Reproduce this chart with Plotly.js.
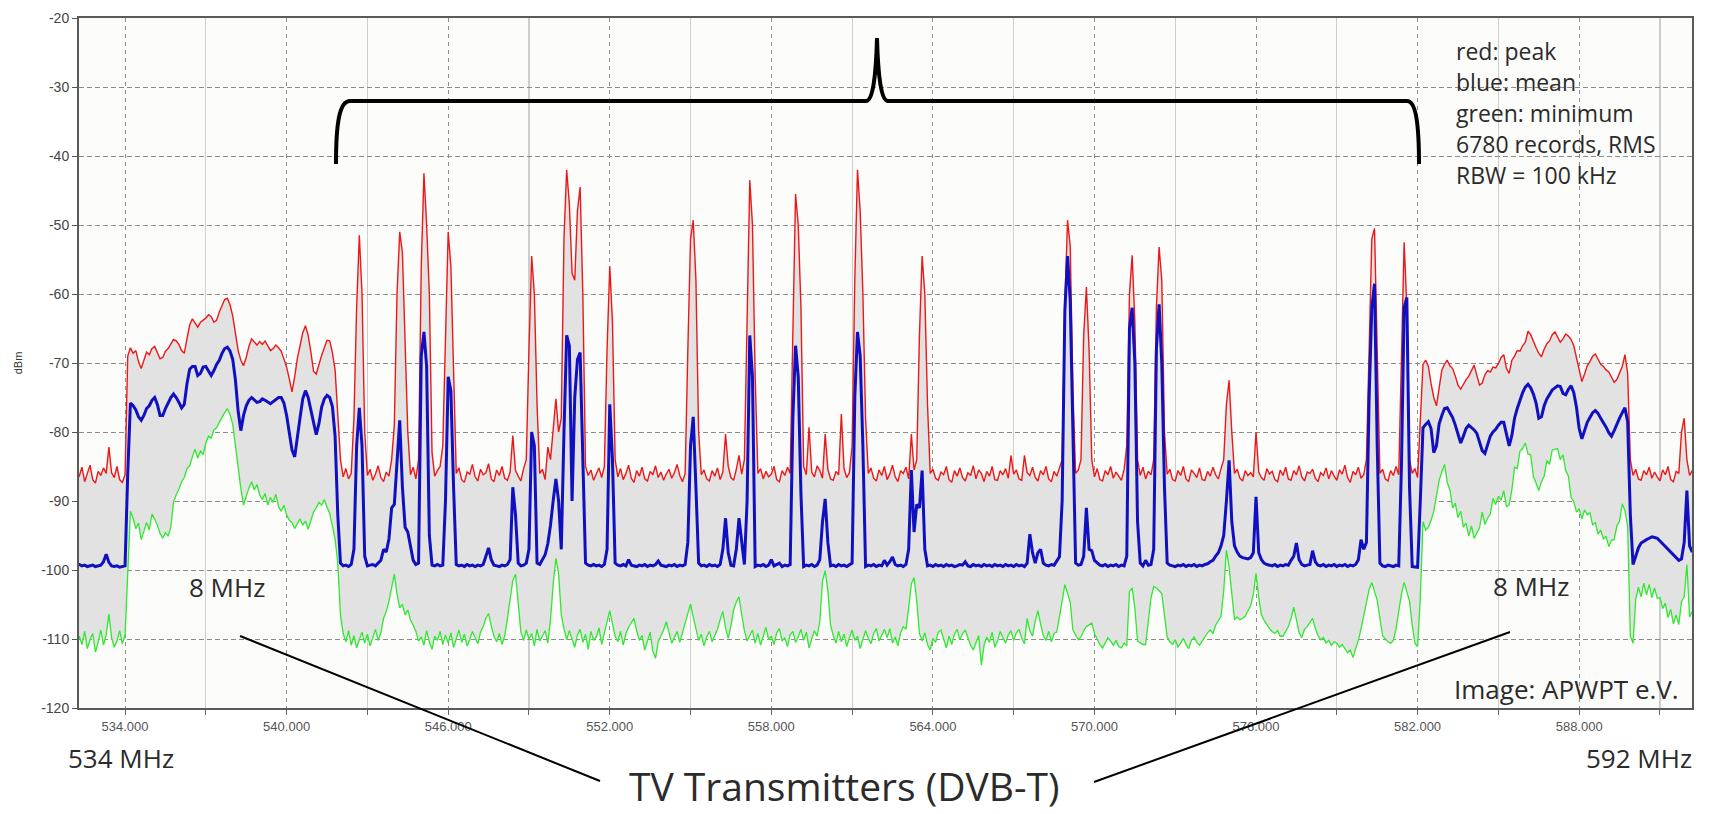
<!DOCTYPE html>
<html>
<head>
<meta charset="utf-8">
<script src="https://cdn.plot.ly/plotly-3.0.1.min.js"></script>
<style>html,body{margin:0;padding:0;background:#ffffff;}#chart{width:1712px;height:814px;}</style>
</head>
<body>
<div id="chart"></div>
<script>
// ---------- DATA (dBm), one row per MHz: row k covers 532+k .0 ... .9 MHz ----------
const firstRowMHz = 532;
const stepMHz = 0.1;

const peakDbm = [
[-86.0,-85.6,-86.8,-86.4,-85.1,-87.2,-86.0,-84.8,-86.9,-87.4],
[-85.7,-86.3,-85.2,-86.0,-82.2,-85.9,-86.6,-85.0,-86.9,-87.3],
[-86.2,-69.0,-67.8,-68.6,-68.2,-69.8,-70.8,-69.5,-68.4,-68.8],
[-67.9,-67.6,-68.5,-69.4,-69.2,-68.3,-67.9,-67.2,-66.6,-66.8],
[-67.3,-68.2,-68.6,-66.5,-64.5,-63.6,-64.2,-64.8,-64.1,-63.8],
[-63.5,-63.0,-63.3,-64.1,-63.8,-62.6,-61.7,-60.8,-60.6,-61.6],
[-63.2,-66.0,-68.2,-69.6,-70.4,-69.2,-67.6,-66.5,-67.0,-67.4],
[-66.9,-67.3,-66.8,-67.6,-68.2,-67.9,-67.4,-67.8,-68.3,-69.4],
[-70.6,-72.3,-74.2,-72.0,-69.3,-67.5,-65.6,-64.6,-66.0,-68.4],
[-71.2,-71.6,-70.2,-68.9,-67.8,-66.7,-66.8,-68.5,-71.0,-77.0],
[-84.0,-86.5,-85.3,-86.8,-86.0,-78.0,-62.0,-51.5,-60.0,-80.0],
[-86.3,-85.4,-87.0,-86.1,-84.9,-86.6,-87.2,-85.8,-86.4,-84.0],
[-79.0,-60.0,-51.0,-54.0,-66.0,-80.0,-86.2,-85.1,-86.8,-84.0],
[-56.0,-42.5,-50.0,-60.0,-83.0,-86.4,-85.6,-85.0,-82.0,-66.0],
[-51.0,-56.0,-72.0,-86.0,-85.2,-86.9,-87.3,-85.8,-86.1,-84.7],
[-86.5,-87.1,-85.4,-86.2,-85.9,-84.6,-86.8,-87.2,-85.5,-86.3],
[-85.0,-86.7,-87.0,-85.8,-80.5,-85.6,-86.4,-87.1,-85.3,-84.0],
[-68.0,-54.5,-60.0,-76.0,-86.0,-85.4,-86.9,-82.2,-84.0,-79.0],
[-75.2,-80.0,-78.0,-52.0,-42.0,-47.0,-57.0,-58.0,-48.0,-44.5],
[-60.0,-85.0,-86.3,-85.5,-87.0,-86.1,-85.2,-86.6,-85.0,-68.0],
[-56.0,-64.0,-84.0,-86.5,-85.3,-86.9,-86.0,-84.8,-86.7,-87.3],
[-85.6,-86.4,-85.1,-86.8,-87.1,-85.7,-86.2,-84.9,-86.6,-85.8],
[-87.0,-86.1,-85.4,-86.7,-85.9,-84.7,-86.3,-87.2,-86.0,-68.0],
[-52.0,-49.3,-58.0,-80.0,-86.2,-85.5,-86.8,-87.1,-85.6,-86.4],
[-85.2,-86.9,-85.8,-80.3,-85.0,-86.6,-87.0,-85.4,-83.4,-86.1],
[-84.0,-64.0,-43.5,-50.0,-72.0,-86.0,-85.3,-86.8,-85.7,-86.5],
[-86.1,-85.0,-86.9,-87.2,-85.6,-86.3,-85.1,-86.0,-64.0,-45.5],
[-50.0,-62.0,-85.0,-86.2,-79.3,-85.8,-86.5,-84.9,-85.6,-86.7],
[-80.3,-85.4,-86.8,-87.0,-85.7,-86.2,-77.4,-85.3,-86.6,-85.9],
[-82.0,-58.0,-42.0,-48.0,-60.0,-78.0,-86.0,-85.2,-86.7,-87.1],
[-85.5,-86.3,-85.0,-86.9,-86.1,-84.8,-86.5,-87.2,-85.6,-86.0],
[-85.1,-86.8,-80.3,-85.5,-84.0,-66.0,-54.5,-60.0,-76.0,-86.0],
[-85.4,-86.7,-87.0,-85.8,-86.2,-85.0,-86.9,-87.3,-85.6,-86.4],
[-85.2,-86.6,-87.1,-85.9,-86.3,-84.9,-86.8,-85.5,-86.0,-87.2],
[-85.7,-86.4,-85.0,-86.9,-87.0,-85.6,-86.2,-85.3,-86.7,-83.4],
[-86.1,-85.5,-86.8,-87.0,-83.4,-85.9,-86.3,-85.1,-86.6,-87.1],
[-85.6,-86.2,-85.0,-86.8,-87.2,-85.7,-86.4,-85.3,-84.0,-62.0],
[-49.3,-53.0,-74.0,-86.0,-85.5,-84.0,-66.0,-59.0,-68.0,-84.0],
[-86.5,-85.3,-86.9,-87.1,-85.6,-86.2,-85.0,-86.7,-85.8,-86.4],
[-87.0,-85.5,-82.0,-60.0,-54.4,-64.0,-84.0,-86.3,-85.1,-86.8],
[-85.7,-86.2,-84.0,-62.0,-53.2,-58.0,-80.0,-86.1,-85.4,-86.9],
[-87.1,-85.6,-86.3,-85.0,-86.8,-87.2,-85.5,-86.0,-86.6,-85.2],
[-86.9,-87.0,-85.7,-86.4,-85.1,-86.2,-86.8,-85.3,-84.0,-76.0],
[-72.5,-80.0,-86.0,-85.4,-86.7,-87.1,-85.6,-86.3,-85.9,-86.5],
[-80.0,-85.8,-86.6,-87.0,-85.3,-86.1,-85.7,-86.9,-87.2,-85.5],
[-86.3,-85.1,-86.8,-87.0,-85.6,-86.2,-84.9,-86.5,-87.1,-85.8],
[-86.0,-85.4,-86.7,-87.2,-85.9,-86.3,-85.2,-86.8,-85.6,-86.4],
[-87.0,-85.5,-86.1,-84.8,-86.6,-87.3,-85.7,-86.2,-85.1,-86.7],
[-86.2,-84.0,-66.0,-52.0,-50.5,-68.0,-86.0,-85.4,-86.8,-87.1],
[-85.6,-86.3,-85.0,-86.2,-70.0,-52.5,-62.0,-84.0,-86.0,-85.3],
[-86.6,-78.0,-70.2,-69.6,-70.5,-73.0,-75.0,-76.2,-73.5,-71.0],
[-70.2,-69.6,-70.4,-70.8,-71.9,-73.2,-73.8,-73.0,-72.4,-71.9],
[-71.0,-70.3,-71.8,-73.2,-72.9,-71.7,-71.1,-71.3,-70.6,-70.7],
[-70.1,-69.2,-68.8,-70.8,-71.5,-69.6,-69.0,-68.2,-68.3,-67.5],
[-67.0,-65.4,-65.9,-67.0,-67.8,-68.6,-69.1,-68.0,-67.2,-66.8],
[-65.9,-65.5,-66.2,-67.0,-66.5,-65.8,-66.1,-66.6,-67.5,-69.2],
[-71.0,-72.7,-71.6,-70.4,-69.8,-69.0,-68.7,-69.5,-70.2,-70.5],
[-71.0,-71.3,-72.0,-72.8,-72.4,-71.4,-70.5,-68.8,-71.5,-84.0],
[-86.3,-85.4,-86.8,-87.0,-85.6,-86.2,-85.1,-86.7,-85.8,-86.5],
[-87.1,-85.5,-86.2,-85.0,-86.9,-87.2,-85.7,-86.0,-80.0,-78.0],
[-84.0,-86.3,-85.6]
];

const meanDbm = [
[-99.3,-99.4,-99.2,-99.2,-99.4,-99.3,-99.5,-99.4,-99.3,-99.5],
[-99.4,-99.3,-98.8,-97.7,-98.9,-99.4,-99.5,-99.4,-99.6,-99.5],
[-99.4,-86.0,-75.8,-76.2,-76.8,-77.8,-78.3,-77.6,-76.6,-76.2],
[-75.4,-75.0,-76.0,-77.6,-77.6,-76.6,-75.8,-75.0,-74.5,-75.0],
[-75.7,-76.5,-76.0,-73.0,-70.9,-70.5,-70.5,-71.8,-71.5,-70.6],
[-70.5,-71.2,-71.8,-71.1,-70.2,-69.6,-68.6,-67.9,-67.7,-68.3],
[-69.5,-72.5,-77.0,-79.8,-77.6,-76.2,-75.4,-75.0,-75.4,-75.7],
[-75.6,-75.2,-75.4,-75.7,-75.9,-75.6,-75.3,-75.0,-75.0,-75.8],
[-77.6,-80.0,-82.6,-83.6,-80.5,-77.9,-75.2,-74.0,-75.0,-76.6],
[-78.6,-80.4,-78.8,-76.4,-75.2,-74.7,-75.0,-76.3,-80.6,-92.0],
[-99.0,-99.4,-99.3,-99.5,-99.2,-97.0,-82.0,-76.5,-82.0,-98.0],
[-99.4,-99.3,-99.2,-99.4,-99.0,-98.6,-97.0,-97.4,-95.5,-91.0],
[-90.5,-85.0,-78.3,-88.0,-93.8,-94.5,-96.5,-98.6,-99.2,-99.0],
[-69.0,-65.5,-70.5,-95.0,-99.3,-99.4,-99.2,-99.4,-99.3,-90.0],
[-72.0,-74.0,-88.0,-99.2,-99.4,-99.3,-99.5,-99.2,-99.4,-99.3],
[-99.5,-99.3,-99.4,-99.2,-98.0,-96.8,-98.5,-99.3,-99.4,-99.5],
[-99.3,-99.4,-99.2,-98.5,-88.0,-92.0,-99.0,-99.4,-99.3,-99.0],
[-97.0,-80.0,-82.0,-99.0,-99.2,-98.4,-97.8,-96.2,-93.5,-89.9],
[-86.8,-90.0,-97.0,-80.0,-66.0,-67.5,-90.0,-75.0,-69.5,-68.5],
[-85.0,-99.0,-99.3,-99.4,-99.2,-99.4,-99.3,-99.5,-99.2,-97.0],
[-76.0,-84.0,-99.0,-99.3,-99.4,-99.2,-99.4,-98.5,-99.3,-99.4],
[-99.5,-99.3,-99.4,-99.2,-99.5,-99.3,-99.4,-99.2,-98.7,-99.3],
[-99.4,-99.5,-99.3,-99.4,-99.2,-99.5,-99.3,-99.4,-99.2,-96.0],
[-82.0,-77.8,-88.0,-99.0,-99.4,-99.3,-99.5,-99.2,-99.4,-99.3],
[-99.5,-99.2,-97.0,-92.5,-97.5,-99.3,-99.4,-97.0,-92.5,-96.0],
[-99.2,-90.0,-66.0,-72.0,-99.5,-99.3,-99.4,-99.2,-99.5,-99.3],
[-98.5,-99.4,-99.2,-99.0,-99.5,-99.3,-99.4,-99.2,-78.0,-67.5],
[-72.0,-89.0,-99.5,-99.3,-99.4,-99.2,-99.5,-99.3,-98.5,-93.0],
[-89.7,-96.0,-99.4,-99.3,-99.5,-99.2,-99.4,-99.3,-99.5,-99.2],
[-99.0,-75.0,-65.5,-69.0,-82.0,-99.5,-99.3,-99.4,-99.2,-99.5],
[-99.3,-99.4,-98.6,-99.3,-98.8,-98.1,-99.2,-99.4,-99.3,-99.5],
[-99.2,-97.0,-85.5,-94.5,-90.5,-91.0,-85.6,-97.0,-99.4,-99.3],
[-99.5,-99.2,-99.4,-99.3,-99.5,-99.2,-99.4,-99.3,-99.5,-99.4],
[-99.2,-99.3,-98.8,-99.4,-99.5,-99.2,-99.4,-99.3,-99.5,-99.2],
[-99.4,-99.3,-99.5,-99.2,-99.4,-99.3,-99.5,-99.2,-99.4,-99.3],
[-99.5,-99.2,-99.4,-99.3,-99.5,-99.0,-94.8,-97.5,-99.0,-97.5],
[-97.0,-99.0,-99.3,-99.4,-99.2,-99.3,-98.6,-98.1,-90.0,-62.5],
[-54.5,-61.0,-80.0,-99.0,-99.3,-99.2,-98.0,-91.0,-97.0,-97.2],
[-98.6,-99.0,-99.3,-99.4,-99.2,-99.5,-99.3,-99.4,-99.2,-99.5],
[-99.3,-99.4,-98.0,-65.0,-62.0,-70.0,-93.0,-99.0,-99.4,-98.6],
[-99.3,-99.2,-97.0,-68.0,-61.5,-70.0,-88.0,-99.0,-99.3,-99.4],
[-99.5,-99.3,-99.4,-99.2,-99.5,-99.3,-99.4,-99.2,-99.5,-99.3],
[-99.4,-99.2,-99.1,-98.8,-98.6,-98.0,-97.5,-96.5,-95.0,-90.0],
[-84.1,-93.0,-96.5,-97.4,-98.0,-98.2,-98.3,-98.4,-98.2,-97.5],
[-89.4,-97.5,-98.5,-99.0,-99.2,-99.3,-99.4,-99.2,-99.5,-99.3],
[-99.4,-99.2,-99.3,-98.6,-98.0,-96.1,-98.5,-99.2,-99.4,-99.3],
[-99.2,-97.2,-98.8,-99.3,-99.4,-99.2,-99.5,-99.3,-99.4,-99.2],
[-99.5,-99.3,-99.4,-99.2,-99.5,-99.3,-99.4,-99.2,-98.5,-95.6],
[-97.0,-96.0,-75.0,-62.0,-58.5,-82.0,-99.0,-99.4,-99.5,-99.3],
[-99.4,-99.5,-99.3,-99.4,-85.0,-62.0,-60.5,-88.0,-99.5,-99.6],
[-99.6,-90.0,-79.4,-78.9,-78.5,-79.5,-83.0,-82.0,-78.8,-77.6],
[-76.6,-76.5,-77.2,-77.9,-79.0,-80.5,-81.6,-80.6,-79.5,-79.0],
[-79.3,-79.7,-80.2,-81.5,-82.7,-83.1,-81.8,-80.6,-80.0,-79.6],
[-79.0,-78.6,-78.6,-80.2,-82.0,-80.5,-78.0,-76.6,-75.3,-74.3],
[-73.5,-73.1,-73.6,-74.5,-75.8,-78.0,-77.8,-76.2,-75.2,-74.5],
[-73.9,-73.6,-73.3,-73.4,-74.4,-74.6,-73.8,-73.3,-74.3,-76.4],
[-79.5,-81.0,-79.8,-78.6,-77.9,-77.2,-76.9,-77.3,-78.0,-78.6],
[-79.3,-80.1,-80.6,-79.8,-78.8,-78.0,-77.2,-76.5,-78.5,-92.0],
[-99.2,-98.0,-96.8,-96.1,-95.8,-95.6,-95.4,-95.2,-95.3,-95.4],
[-95.8,-96.2,-96.7,-97.1,-97.5,-97.9,-98.3,-98.6,-98.4,-96.0],
[-88.5,-96.5,-97.4]
];

const minDbm = [
[-110.2,-109.1,-111.0,-109.6,-110.8,-108.9,-111.4,-110.1,-109.2,-111.9],
[-110.5,-108.7,-110.9,-109.4,-106.4,-109.8,-111.2,-110.3,-108.8,-110.7],
[-109.5,-100.0,-91.5,-92.5,-94.0,-93.2,-95.6,-94.4,-93.1,-94.2],
[-91.9,-92.6,-93.5,-94.7,-95.4,-94.6,-95.1,-93.8,-90.2,-89.1],
[-88.3,-87.2,-86.6,-85.3,-84.9,-83.6,-82.5,-83.8,-82.7,-83.3],
[-81.6,-80.6,-80.9,-79.7,-79.4,-78.6,-77.8,-77.2,-76.6,-77.5],
[-78.9,-82.2,-85.0,-88.2,-90.6,-89.3,-88.1,-87.2,-88.4,-87.6],
[-89.1,-89.8,-88.9,-90.6,-89.5,-90.2,-89.0,-90.8,-91.5,-90.6],
[-92.0,-92.8,-93.1,-94.0,-93.2,-92.6,-93.5,-92.9,-94.1,-92.7],
[-91.6,-91.0,-90.2,-90.6,-89.8,-90.9,-91.8,-93.6,-95.5,-99.0],
[-106.5,-109.2,-110.4,-108.8,-110.9,-109.5,-111.3,-110.1,-109.0,-110.6],
[-109.3,-111.0,-109.8,-108.6,-110.2,-109.1,-107.0,-106.0,-104.5,-102.5],
[-100.6,-103.5,-105.5,-105.0,-106.5,-105.8,-107.2,-108.0,-108.9,-110.3],
[-109.7,-110.9,-108.8,-110.4,-111.5,-109.6,-110.2,-108.9,-110.8,-109.4],
[-110.6,-109.1,-111.2,-110.0,-108.7,-110.5,-109.3,-111.0,-110.1,-108.9],
[-109.9,-110.7,-109.0,-108.2,-107.0,-106.3,-108.1,-109.6,-110.4,-109.2],
[-110.8,-109.5,-107.0,-104.0,-101.5,-100.6,-105.0,-109.0,-110.2,-108.7],
[-110.0,-109.2,-111.0,-108.6,-110.3,-109.5,-108.8,-110.6,-107.2,-102.0],
[-98.3,-100.5,-106.5,-108.5,-110.1,-108.8,-109.9,-111.2,-109.4,-108.6],
[-110.5,-109.3,-111.5,-108.9,-110.2,-109.7,-108.4,-110.8,-109.1,-107.5],
[-105.9,-107.8,-109.6,-110.4,-108.9,-110.9,-109.2,-108.3,-107.6,-107.0],
[-108.8,-110.2,-109.5,-111.6,-110.3,-109.0,-111.8,-112.8,-110.4,-109.6],
[-108.7,-107.5,-109.2,-110.6,-109.8,-108.9,-110.5,-109.1,-107.8,-106.2],
[-104.9,-106.8,-108.5,-110.2,-109.3,-111.0,-109.7,-108.9,-110.4,-109.5],
[-108.6,-107.2,-106.0,-108.4,-109.9,-108.1,-105.8,-104.6,-103.9,-106.5],
[-108.8,-110.3,-109.4,-108.7,-110.6,-109.2,-110.9,-109.5,-108.3,-110.1],
[-109.6,-110.8,-109.1,-108.5,-110.3,-109.8,-111.1,-109.4,-108.9,-110.5],
[-109.7,-108.6,-110.2,-109.0,-111.3,-110.0,-108.8,-109.6,-107.5,-101.6],
[-100.1,-103.0,-108.0,-109.5,-110.6,-108.9,-110.4,-109.3,-111.1,-109.8],
[-108.7,-110.2,-109.6,-111.4,-110.1,-108.8,-109.9,-110.7,-109.2,-108.5],
[-110.3,-109.4,-108.6,-109.8,-108.5,-110.6,-109.7,-111.0,-109.1,-108.2],
[-108.6,-105.5,-102.0,-101.1,-104.5,-109.2,-110.3,-109.1,-110.8,-111.6],
[-109.9,-110.5,-109.0,-108.7,-110.2,-111.3,-109.6,-110.8,-109.3,-108.6],
[-110.1,-109.2,-108.7,-109.8,-110.9,-111.6,-110.4,-109.5,-113.8,-110.9],
[-109.7,-110.5,-109.0,-111.2,-110.3,-108.9,-109.8,-110.6,-109.4,-108.8],
[-110.2,-109.1,-108.6,-109.9,-110.7,-107.0,-108.8,-109.6,-107.4,-105.9],
[-107.8,-109.5,-110.2,-108.9,-110.4,-109.2,-109.0,-107.0,-104.5,-102.1],
[-103.4,-104.7,-108.7,-109.5,-110.1,-109.7,-108.8,-108.2,-108.0,-107.7],
[-109.2,-110.0,-110.8,-111.3,-110.5,-109.8,-110.3,-110.9,-110.2,-111.1],
[-111.3,-110.6,-111.0,-103.1,-102.6,-105.5,-110.3,-110.5,-110.8,-110.8],
[-107.5,-104.0,-102.4,-102.6,-103.0,-103.4,-106.5,-109.7,-110.4,-110.8],
[-110.1,-111.2,-110.6,-109.9,-110.8,-111.4,-110.2,-109.7,-110.5,-110.9],
[-110.3,-109.6,-109.1,-108.7,-109.2,-108.0,-107.4,-106.7,-103.0,-97.1],
[-99.6,-104.0,-107.2,-106.8,-107.2,-107.0,-106.7,-105.9,-105.2,-103.5],
[-100.5,-104.0,-106.5,-107.3,-108.0,-108.5,-108.9,-109.2,-108.8,-109.6],
[-109.6,-109.0,-108.2,-107.0,-105.4,-107.2,-109.1,-109.8,-108.6,-108.2],
[-107.5,-107.0,-108.4,-109.5,-110.1,-109.8,-110.6,-110.2,-110.9,-110.4],
[-110.6,-111.2,-110.8,-111.5,-112.0,-111.6,-112.7,-111.4,-110.2,-108.5],
[-106.5,-104.5,-102.8,-101.8,-103.0,-104.4,-107.0,-109.5,-110.0,-110.4],
[-110.6,-110.2,-108.5,-106.0,-103.5,-101.8,-103.0,-104.5,-108.0,-110.6],
[-111.1,-104.0,-93.0,-94.2,-93.8,-92.8,-91.5,-89.0,-87.0,-85.8],
[-84.7,-87.3,-88.4,-91.0,-90.3,-92.4,-91.5,-93.8,-93.2,-95.1],
[-93.6,-95.4,-94.6,-93.9,-91.6,-93.4,-92.5,-91.9,-89.6,-90.5],
[-89.3,-89.9,-88.5,-90.8,-90.6,-88.4,-85.1,-85.3,-82.8,-82.4],
[-81.6,-83.2,-83.3,-86.5,-87.4,-88.5,-87.2,-86.4,-84.1,-84.7],
[-82.6,-82.5,-82.4,-84.0,-83.3,-85.6,-86.4,-89.5,-90.1,-91.6],
[-91.1,-92.6,-91.3,-92.0,-91.7,-93.5,-93.1,-94.8,-94.2,-95.5],
[-95.1,-96.6,-95.7,-95.6,-93.6,-92.9,-90.4,-91.4,-93.6,-109.6],
[-110.6,-104.2,-102.5,-103.9,-101.9,-103.6,-102.1,-104.0,-102.6,-104.1],
[-104.0,-105.6,-104.8,-106.9,-105.7,-107.8,-106.5,-107.9,-104.6,-103.9],
[-99.2,-106.8,-106.0]
];

const xTickVals = [534, 540, 546, 552, 558, 564, 570, 576, 582, 588];
const xTickText = ['534.000','540.000','546.000','552.000','558.000','564.000','570.000','576.000','582.000','588.000'];
const yTickVals = [-120,-110,-100,-90,-80,-70,-60,-50,-40,-30,-20];
const yTickText = ['-120','-110','-100','-90','-80','-70','-60','-50','-40','-30','-20'];

// ---------- build traces ----------
function expand(rows){
  const x = [], y = [];
  rows.forEach((row, k) => row.forEach((v, j) => {
    x.push(+(firstRowMHz + k + stepMHz * j).toFixed(1));
    y.push(v);
  }));
  return {x, y};
}
const pk = expand(peakDbm), mn = expand(meanDbm), lo = expand(minDbm);

const traces = [
  {type:'scatter', mode:'lines', x: lo.x, y: lo.y, name:'minimum',
   line:{color:'#2fe82f', width:1.3}, hoverinfo:'skip'},
  {type:'scatter', mode:'lines', x: pk.x, y: pk.y, name:'peak',
   fill:'tonexty', fillcolor:'#e2e2e2',
   line:{color:'#ec1818', width:1.4}, hoverinfo:'skip'},
  {type:'scatter', mode:'lines', x: mn.x, y: mn.y, name:'mean',
   line:{color:'#1010c0', width:3}, hoverinfo:'skip'}
];

// ---------- pixel -> paper helpers for decorations ----------
const L = 79, R = 20, T = 18, B = 106, W = 1712, H = 814;
const PW = W - L - R, PH = H - T - B;
const px = X => (X - L) / PW;
const py = Y => (H - B - Y) / PH;
const P = (X, Y) => px(X).toFixed(5) + ',' + py(Y).toFixed(5);

const bracePath = 'M ' + P(336,164) + ' C ' + P(336,125) + ' ' + P(339,101) + ' ' + P(350,101) +
  ' L ' + P(866,101) + ' C ' + P(873,101) + ' ' + P(876,75) + ' ' + P(877,38) +
  ' C ' + P(878,75) + ' ' + P(881,101) + ' ' + P(888,101) +
  ' L ' + P(1407,101) + ' C ' + P(1416,101) + ' ' + P(1419,125) + ' ' + P(1419,164);

const txtFont = {family:'Open Sans, Noto Sans, sans-serif', color:'#2b2b2b'};
function note(text, X, Y, size, anchor){
  return {text, x: px(X), y: py(Y), xref:'paper', yref:'paper', showarrow:false,
          xanchor: anchor || 'center', yanchor:'middle',
          font: Object.assign({size}, txtFont)};
}

const legendLines = ['red: peak','blue: mean','green: minimum','6780 records, RMS','RBW = 100 kHz'];
const legendY = [51, 82, 113, 144, 175];

const annotations = [
  note('8 MHz', 227, 587, 26),
  note('8 MHz', 1531, 586, 26),
  note('534 MHz', 121, 758, 26),
  note('592 MHz', 1639, 758, 26),
  note('Image: APWPT e.V.', 1681, 689, 26, 'right'),
  note('TV Transmitters (DVB-T)', 844, 785, 39)
].concat(legendLines.map((t, i) => note(t, 1454, legendY[i], 23, 'left')));

const shapes = [
  {type:'path', xref:'paper', yref:'paper', path: bracePath, line:{color:'#000', width:4}},
  {type:'line', xref:'paper', yref:'paper', x0:px(240), y0:py(636), x1:px(600), y1:py(781), line:{color:'#000', width:2}},
  {type:'line', xref:'paper', yref:'paper', x0:px(1094), y0:py(782), x1:px(1510), y1:py(632), line:{color:'#000', width:2}}
];

const minorY = [];
for (let v = -117.5; v > -20; v += 2.5) { if (v % 10 !== 0) minorY.push(v); }

const layout = {
  width: W, height: H,
  margin: {l: L, r: R, t: T, b: B, pad: 0},
  paper_bgcolor: '#ffffff',
  plot_bgcolor: '#fcfcfa',
  showlegend: false,
  xaxis: {
    range: [532.29, 592.19], autorange: false,
    tickmode: 'array', tickvals: xTickVals, ticktext: xTickText,
    ticks: 'outside', ticklen: 5, tickcolor: '#666',
    tickfont: {family:'Liberation Sans, Arial, sans-serif', size: 13, color:'#555'},
    showgrid: true, gridcolor: '#8c8c8c', griddash: '4px,4px', gridwidth: 1,
    minor: {tickmode:'array', tickvals:[537,543,549,555,561,567,573,579,585,591],
            ticks:'outside', ticklen:5, tickcolor:'#666',
            showgrid:true, gridcolor:'#cdcdcd', griddash:'solid', gridwidth:1.2},
    showline: true, linecolor: '#5a5a5a', linewidth: 2, mirror: true,
    zeroline: false
  },
  yaxis: {
    range: [-120, -20], autorange: false,
    tickmode: 'array', tickvals: yTickVals, ticktext: yTickText,
    ticks: 'outside', ticklen: 5, tickcolor: '#555',
    tickfont: {family:'Liberation Sans, Arial, sans-serif', size: 14, color:'#444'},
    showgrid: true, gridcolor: '#8c8c8c', griddash: '5px,3px', gridwidth: 1,
    minor: {tickmode:'array', tickvals: minorY, ticks:'outside', ticklen:3, tickcolor:'#777', showgrid:false},
    showline: true, linecolor: '#5a5a5a', linewidth: 2, mirror: true,
    zeroline: false,
    title: {text:'dBm', font:{family:'Liberation Sans, Arial, sans-serif', size: 11, color:'#333'}, standoff: 16}
  },
  annotations, shapes
};

Plotly.newPlot('chart', traces, layout, {displayModeBar:false, staticPlot:true});
</script>
</body>
</html>
